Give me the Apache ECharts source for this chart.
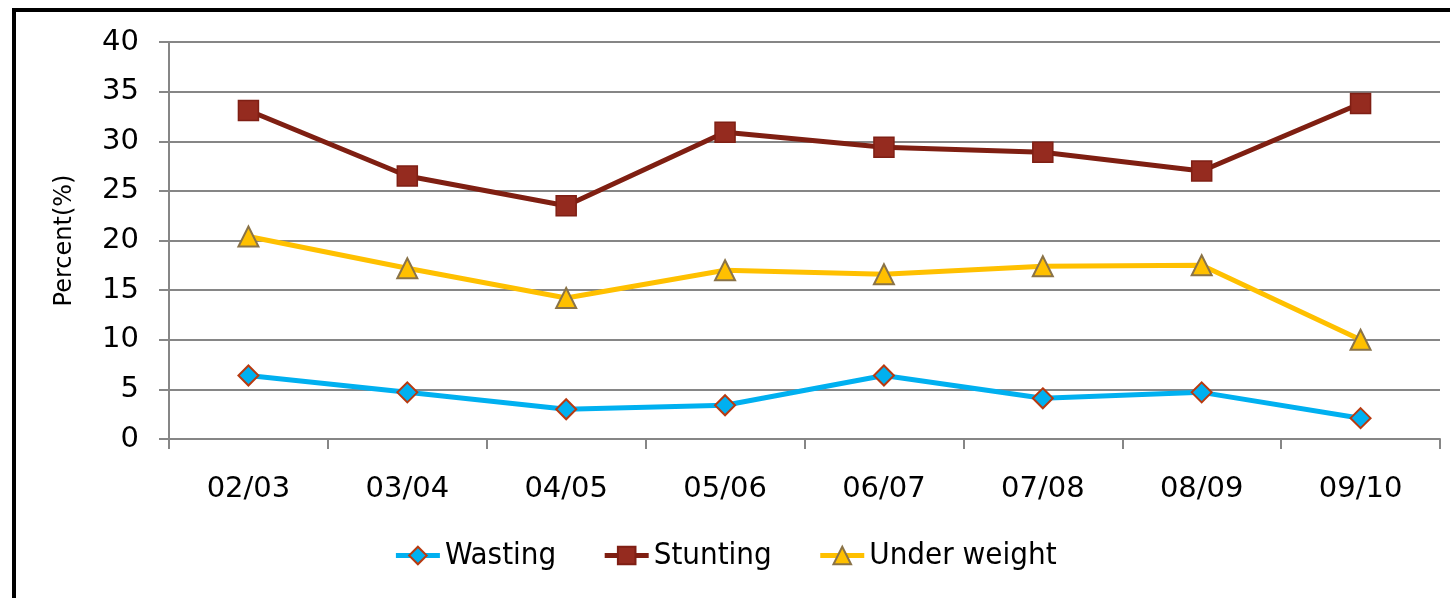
<!DOCTYPE html>
<html>
<head>
<meta charset="utf-8">
<script src="https://cdn.jsdelivr.net/npm/echarts@6/dist/echarts.min.js"></script>
<style>
  html, body { margin: 0; padding: 0; background: #fff; }
  #chart { width: 1450px; height: 598px; }
</style>
</head>
<body>
<div id="chart"></div>
<script>
// 各年份营养状况
const years = ["02/03", "03/04", "04/05", "05/06", "06/07", "07/08", "08/09", "09/10"];
const wasting = [6.4, 4.7, 3.0, 3.4, 6.4, 4.1, 4.7, 2.1];
const stunting = [33.1, 26.5, 23.5, 30.9, 29.4, 28.9, 27.0, 33.8];
const underWeight = [20.4, 17.2, 14.2, 17.0, 16.6, 17.4, 17.5, 10.0];
const yTicks = { min: 0, max: 40, interval: 5 };

const chart = echarts.init(document.getElementById("chart"));

const option = {
  animation: false,
  graphic: [
    {
      type: "rect",
      shape: { x: 14, y: 10, width: 1460, height: 620 },
      style: { fill: "none", stroke: "#000", lineWidth: 4 },
      z: -1,
    },
  ],
  grid: {
    left: 169,
    right: 10,
    top: 42,
    bottom: 159,
  },
  legend: {
    bottom: 22,
    left: "center",
    itemWidth: 44,
    itemHeight: 22,
    itemGap: 46,
    lineStyle: { width: 5 },
    textStyle: {
      fontFamily: "DejaVu Sans Condensed",
      fontSize: 31,
      color: "#000",
    },
    data: ["Wasting", "Stunting", "Under weight"],
  },
  xAxis: {
    type: "category",
    data: years,
    boundaryGap: true,
    axisLine: { lineStyle: { color: "#868686", width: 2 } },
    axisTick: { show: true, interval: 0, length: 10, lineStyle: { color: "#868686", width: 2 } },
    axisLabel: {
      margin: 36,
      fontSize: 29,
      fontFamily: "DejaVu Sans",
      color: "#000",
    },
  },
  yAxis: {
    type: "value",
    min: yTicks.min,
    max: yTicks.max,
    interval: yTicks.interval,
    name: "Percent(%)",
    nameLocation: "middle",
    nameGap: 92,
    nameTextStyle: { fontSize: 24, fontFamily: "DejaVu Sans", color: "#000" },
    axisLine: { show: true, lineStyle: { color: "#868686", width: 2 } },
    axisTick: { show: true, length: 10, lineStyle: { color: "#868686", width: 2 } },
    axisLabel: {
      margin: 30,
      fontSize: 29,
      fontFamily: "DejaVu Sans",
      color: "#000",
    },
    splitLine: { lineStyle: { color: "#868686", width: 2 } },
  },
  series: [
    {
      name: "Wasting",
      type: "line",
      data: wasting,
      symbol: "diamond",
      symbolSize: 20,
      lineStyle: { color: "#00B0F0", width: 5 },
      itemStyle: { color: "#00B0F0", borderColor: "#B83A10", borderWidth: 2 },
    },
    {
      name: "Stunting",
      type: "line",
      data: stunting,
      symbol: "rect",
      symbolSize: 20,
      lineStyle: { color: "#7F1F12", width: 5 },
      itemStyle: { color: "#952B1F", borderColor: "#7F1F14", borderWidth: 1.5 },
    },
    {
      name: "Under weight",
      type: "line",
      data: underWeight,
      symbol: "triangle",
      symbolSize: 20,
      lineStyle: { color: "#FFC000", width: 5 },
      itemStyle: { color: "#FFC000", borderColor: "#8A7348", borderWidth: 2 },
    },
  ],
};

chart.setOption(option);
</script>
</body>
</html>
